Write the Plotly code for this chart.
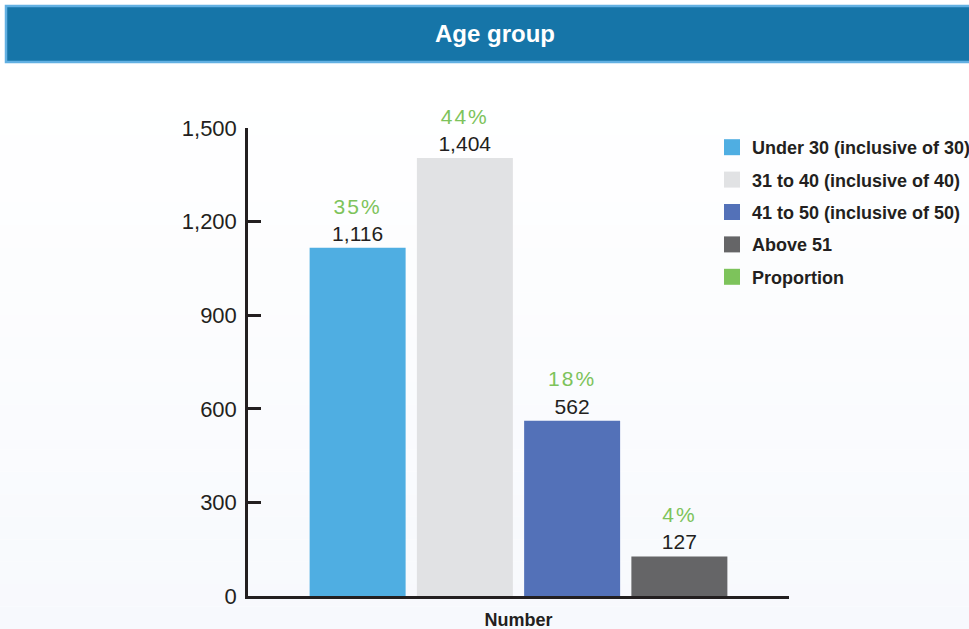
import plotly.graph_objects as go

# ---- data ----
categories = ["Under 30 (inclusive of 30)", "31 to 40 (inclusive of 40)",
              "41 to 50 (inclusive of 50)", "Above 51"]
counts = [1116, 1404, 562, 127]
proportions = ["35%", "44%", "18%", "4%"]
bar_colors = ["#4FAEE2", "#E1E2E4", "#5371B8", "#656567"]
proportion_label = "Proportion"
proportion_color = "#7DC35B"
x_label = "Number"
y_ticks = [0, 300, 600, 900, 1200, 1500]
title = "Age group"

TXT = "#231F20"
FONT = "Liberation Sans, Arial, sans-serif"

fig = go.Figure()

for name, val, pct, col in zip(categories, counts, proportions, bar_colors):
    fig.add_trace(go.Bar(
        x=[x_label], y=[val], name=name, marker=dict(color=col, line=dict(width=0)),
        text=[f"<span style='color:{proportion_color};letter-spacing:2px'>{pct}</span><br>{val:,}"],
        textposition="outside", cliponaxis=False, constraintext="none",
        textfont=dict(family=FONT, size=21, color=TXT),
        showlegend=False, hoverinfo="skip",
    ))

# legend entries (square markers)
for i, (name, col) in enumerate(zip(categories + [proportion_label],
                                      bar_colors + [proportion_color])):
    fig.add_trace(go.Scatter(
        x=[x_label], y=[None], mode="markers", name=name, legendgroup=f"g{i}",
        marker=dict(symbol="square", size=16, color=col), showlegend=True,
    ))

# background gradient bands (decoration)
shapes = []
n = 24
top_px, bot_px = 90, 629
H, W = 629, 969
for k in range(n):
    y0p = top_px + (bot_px - top_px) * k / n
    y1p = top_px + (bot_px - top_px) * (k + 1) / n
    t = (k + 0.5) / n
    r = round(255 - (255 - 247) * t)
    g = round(255 - (255 - 249) * t)
    b = round(255 - (255 - 253) * t)
    shapes.append(dict(type="rect", xref="paper", yref="paper", layer="below",
                       x0=-0.5, x1=1.4,
                       y0=(596 - y1p) / 468, y1=(596 - y0p) / 468,
                       fillcolor=f"rgb({r},{g},{b})", line=dict(width=0)))
# header bar
shapes.append(dict(type="rect", xref="paper", yref="paper", layer="below",
                   x0=(6 - 248) / 541, x1=(975 - 248) / 541,
                   y0=(596 - 62) / 468, y1=(596 - 6) / 468,
                   fillcolor="#1675A8", line=dict(color="#62B0E2", width=2.5)))

fig.update_layout(
    width=W, height=H,
    margin=dict(l=248, r=180, t=128, b=33, autoexpand=False),
    paper_bgcolor="white", plot_bgcolor="rgba(0,0,0,0)",
    barmode="group", bargap=0.207, bargroupgap=0.105,
    shapes=shapes,
    title=dict(text=title, x=495 / 969, xanchor="center", y=1 - 34 / 629,
               yanchor="middle",
               font=dict(family=FONT, size=24, color="white", weight="bold")),
    font=dict(family=FONT, color=TXT),
    showlegend=True,
    legend=dict(x=(712 - 248) / 541, xanchor="left", y=(596 - 129) / 468,
                yanchor="top", bgcolor="rgba(0,0,0,0)", traceorder="grouped",
                tracegroupgap=6, itemclick=False,
                font=dict(family=FONT, size=18, color=TXT, weight="bold")),
    xaxis=dict(type="category", showline=True, linecolor=TXT, linewidth=2.5,
               ticks="inside", tickson="boundaries", ticklen=11, tickwidth=2.5,
               tickcolor=TXT, showgrid=False, zeroline=False,
               ticklabelstandoff=6,
               tickfont=dict(family=FONT, size=18, color=TXT, weight="bold")),
    yaxis=dict(range=[0, 1500], tickvals=y_ticks,
               ticktext=[f"{v:,}" for v in y_ticks],
               showline=True, linecolor=TXT, linewidth=2.5,
               ticks="inside", ticklen=13, tickwidth=2.5, tickcolor=TXT,
               showgrid=False, zeroline=False, ticklabelstandoff=4,
               tickfont=dict(family=FONT, size=22, color=TXT)),
)

fig.write_html("out.html", config={"displayModeBar": False},
               post_script="document.body.style.margin='0';")
